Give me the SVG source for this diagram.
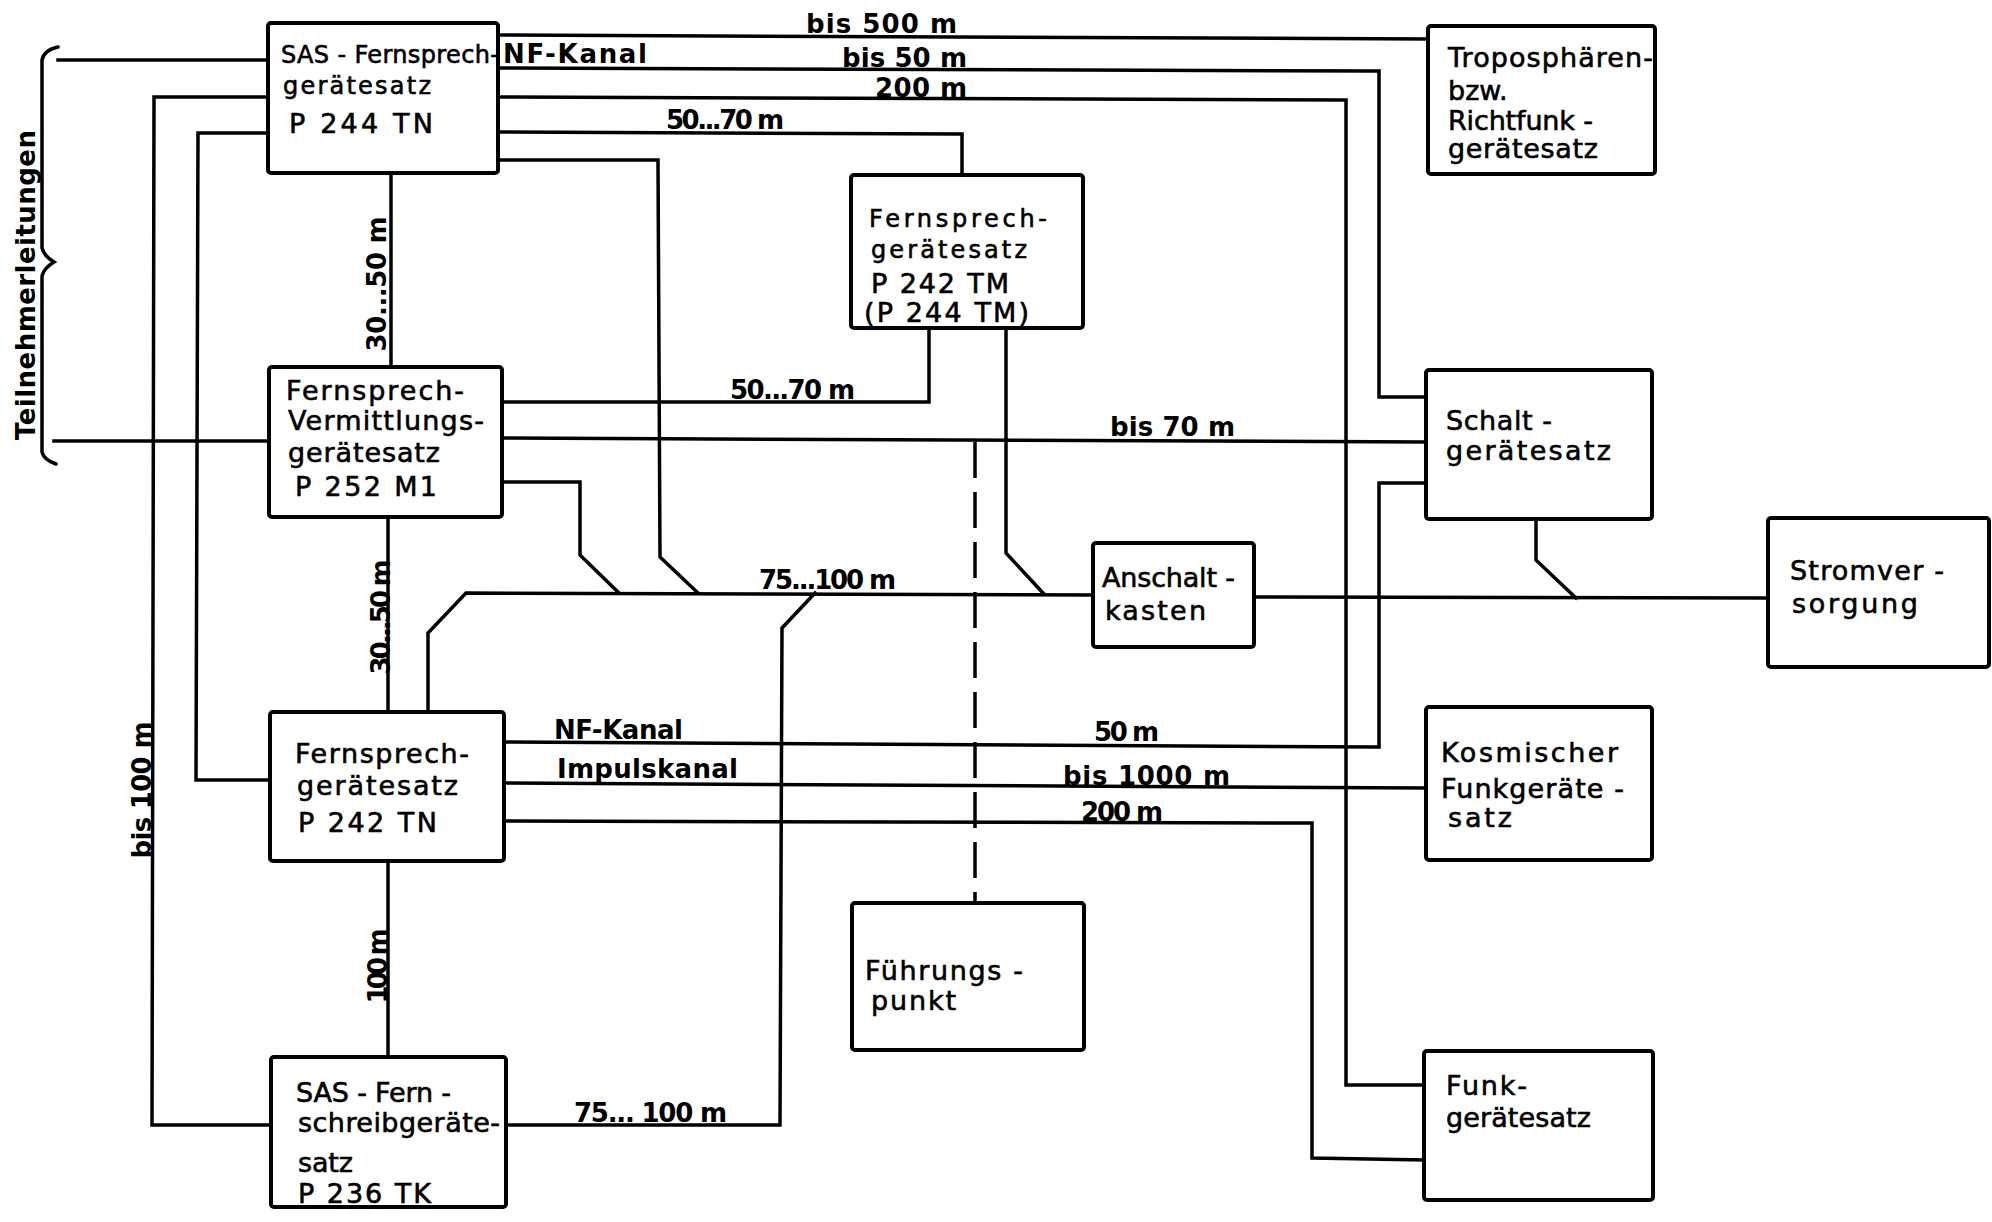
<svg xmlns="http://www.w3.org/2000/svg" width="1992" height="1222" viewBox="0 0 1992 1222">
<style>
.box{fill:#fff;stroke:#000;stroke-width:4;stroke-linejoin:round}
.ln{fill:none;stroke:#000;stroke-width:3.5;stroke-linejoin:miter;stroke-linecap:square}
.dash{fill:none;stroke:#000;stroke-width:3.5;stroke-dasharray:36 14}
.t{font-family:"DejaVu Sans","Liberation Sans",sans-serif;font-size:27px;fill:#000;stroke:#000;stroke-width:0.6}
.s{font-size:24px}
.l{font-family:"DejaVu Sans","Liberation Sans",sans-serif;font-size:26px;font-weight:bold;fill:#000}
</style>
<rect width="1992" height="1222" fill="#fff"/>
<g id="connectors">
<polyline class="ln" points="498,35 1428,39"/>
<polyline class="ln" points="498,68 1379,71 1379,397 1426,397"/>
<polyline class="ln" points="498,97 1346,100 1346,1085 1424,1085"/>
<polyline class="ln" points="498,132 962,134 962,175"/>
<polyline class="ln" points="498,160 658,160 660,557 697,592"/>
<polyline class="ln" points="58,60 268,60"/>
<polyline class="ln" points="268,97 154,97 152,1125 271,1125"/>
<polyline class="ln" points="268,133 198,133 196,780 270,780"/>
<polyline class="ln" points="391,173 391,367"/>
<polyline class="ln" points="388,517 388,712"/>
<polyline class="ln" points="388,861 388,1057"/>
<polyline class="ln" points="502,402 929,402 929,328"/>
<polyline class="ln" points="54,441 269,441"/>
<polyline class="ln" points="502,438 1426,442"/>
<polyline class="ln" points="502,482 580,482 580,555 618,592"/>
<polyline class="ln" points="428,712 428,633 466,593 1093,595"/>
<polyline class="ln" points="1006,328 1006,553 1043,593"/>
<polyline class="ln" points="506,1125 780,1125 782,628 815,593"/>
<polyline class="ln" points="1254,597 1768,598"/>
<polyline class="ln" points="1536,519 1536,560 1576,598"/>
<polyline class="ln" points="504,742 1379,747 1379,483 1426,483"/>
<polyline class="ln" points="504,783 1426,788"/>
<polyline class="ln" points="504,821 1312,823 1312,1158 1424,1160"/>
<line class="dash" x1="975" y1="442" x2="975" y2="903"/>
<path class="ln" style="stroke-linecap:round" d="M58,47 Q44,50 42,60 L42,248 Q44,256 54,262 Q44,268 42,276 L42,452 Q44,460 56,464"/>
</g>
<g id="labels">
<text class="l" x="806" y="33" textLength="151">bis 500 m</text>
<text class="l" x="503" y="63" textLength="144">NF-Kanal</text>
<text class="l" x="842" y="67" textLength="125">bis 50 m</text>
<text class="l" x="875" y="97" textLength="92">200 m</text>
<text class="l" x="666" y="129" textLength="118">50...70 m</text>
<text class="l" x="730" y="399" textLength="125">50...70 m</text>
<text class="l" x="1110" y="436" textLength="125">bis 70 m</text>
<text class="l" x="759" y="589" textLength="137">75...100 m</text>
<text class="l" x="554" y="739" textLength="129">NF-Kanal</text>
<text class="l" x="1094" y="741" textLength="65">50 m</text>
<text class="l" x="557" y="778" textLength="181">Impulskanal</text>
<text class="l" x="1063" y="785" textLength="167">bis 1000 m</text>
<text class="l" x="1081" y="821" textLength="82">200 m</text>
<text class="l" x="574" y="1122" textLength="153">75... 100 m</text>
<text class="l" text-anchor="middle" transform="translate(386,284) rotate(-90)" textLength="135">30...50 m</text>
<text class="l" text-anchor="middle" transform="translate(390,617) rotate(-90)" textLength="115">30...50 m</text>
<text class="l" text-anchor="middle" transform="translate(387,966) rotate(-90)" textLength="75">100 m</text>
<text class="l" text-anchor="middle" transform="translate(151,790) rotate(-90)" textLength="137">bis 100 m</text>
<text class="l" text-anchor="middle" transform="translate(35,285) rotate(-90)" textLength="310">Teilnehmerleitungen</text>
</g>
<g id="n-p244tn">
<rect class="box" x="268" y="23" width="230" height="150" rx="3"/>
<text class="t s" x="281" y="63" textLength="218">SAS - Fernsprech-</text>
<text class="t s" x="283" y="94" textLength="148">gerätesatz</text>
<text class="t" x="289" y="133" textLength="144">P 244   TN</text>
</g>
<g id="n-p252m1">
<rect class="box" x="269" y="367" width="233" height="150" rx="3"/>
<text class="t" x="286" y="400" textLength="178">Fernsprech-</text>
<text class="t" x="288" y="430" textLength="196">Vermittlungs-</text>
<text class="t" x="288" y="462" textLength="152">gerätesatz</text>
<text class="t" x="295" y="496" textLength="142">P 252  M1</text>
</g>
<g id="n-p242tn">
<rect class="box" x="270" y="712" width="234" height="149" rx="3"/>
<text class="t" x="295" y="763" textLength="174">Fernsprech-</text>
<text class="t" x="297" y="795" textLength="161">gerätesatz</text>
<text class="t" x="298" y="832" textLength="139">P 242  TN</text>
</g>
<g id="n-p236tk">
<rect class="box" x="271" y="1057" width="235" height="150" rx="3"/>
<text class="t" x="296" y="1102" textLength="155">SAS - Fern -</text>
<text class="t" x="298" y="1132" textLength="202">schreibgeräte-</text>
<text class="t" x="298" y="1172" textLength="55">satz</text>
<text class="t" x="298" y="1203" textLength="133">P 236  TK</text>
</g>
<g id="n-p242tm">
<rect class="box" x="851" y="175" width="232" height="153" rx="3"/>
<text class="t s" x="869" y="227" textLength="178">Fernsprech-</text>
<text class="t s" x="871" y="258" textLength="156">gerätesatz</text>
<text class="t" x="871" y="293" textLength="138">P 242  TM</text>
<text class="t" x="864" y="322" textLength="165">(P 244  TM)</text>
</g>
<g id="n-tropo">
<rect class="box" x="1428" y="26" width="227" height="148" rx="3"/>
<text class="t" x="1448" y="67" textLength="205">Troposphären-</text>
<text class="t" x="1448" y="100">bzw.</text>
<text class="t" x="1448" y="130" textLength="145">Richtfunk -</text>
<text class="t" x="1448" y="158" textLength="150">gerätesatz</text>
</g>
<g id="n-schalt">
<rect class="box" x="1426" y="370" width="226" height="149" rx="3"/>
<text class="t" x="1446" y="430" textLength="106">Schalt -</text>
<text class="t" x="1446" y="460" textLength="165">gerätesatz</text>
</g>
<g id="n-strom">
<rect class="box" x="1768" y="518" width="221" height="149" rx="3"/>
<text class="t" x="1790" y="580" textLength="154">Stromver -</text>
<text class="t" x="1792" y="613" textLength="126">sorgung</text>
</g>
<g id="n-anschalt">
<rect class="box" x="1093" y="543" width="161" height="104" rx="3"/>
<text class="t" x="1102" y="587" textLength="133">Anschalt -</text>
<text class="t" x="1105" y="620" textLength="101">kasten</text>
</g>
<g id="n-kosmisch">
<rect class="box" x="1426" y="707" width="226" height="153" rx="3"/>
<text class="t" x="1441" y="762" textLength="177">Kosmischer</text>
<text class="t" x="1441" y="798" textLength="183">Funkgeräte -</text>
<text class="t" x="1448" y="827" textLength="64">satz</text>
</g>
<g id="n-funk">
<rect class="box" x="1424" y="1051" width="229" height="149" rx="3"/>
<text class="t" x="1446" y="1095" textLength="81">Funk-</text>
<text class="t" x="1446" y="1127" textLength="145">gerätesatz</text>
</g>
<g id="n-fuehrung">
<rect class="box" x="852" y="903" width="232" height="147" rx="3"/>
<text class="t" x="865" y="980" textLength="158">Führungs -</text>
<text class="t" x="871" y="1010" textLength="85">punkt</text>
</g>
</svg>
